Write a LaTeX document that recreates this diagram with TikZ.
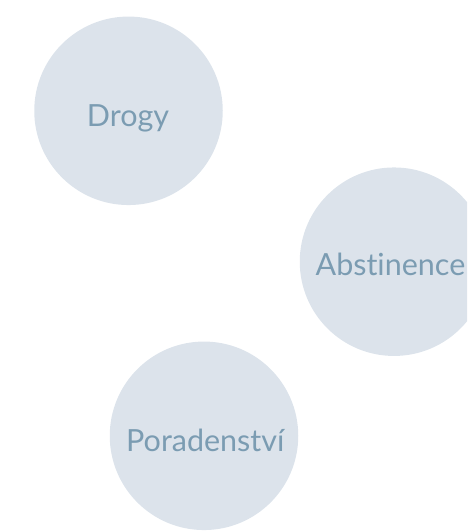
\documentclass[tikz,border=0pt]{standalone}
\usepackage{fontspec}
\setmainfont[Ligatures={NoCommon}]{Lato}
\definecolor{bubble}{HTML}{DCE3EB}
\definecolor{bubbletext}{HTML}{7B9CB2}
\begin{document}
\begin{tikzpicture}[x=1pt,y=-1pt,
  bubblestyle/.style={circle,fill=bubble,draw=none,minimum size=188.5pt,inner sep=0pt},
  labelstyle/.style={anchor=base,text=bubbletext,font=\fontsize{30.5}{34}\selectfont,inner sep=0pt}]
\useasboundingbox (0,0) rectangle (467,532);
\clip (0,0) rectangle (467,532);
\node[bubblestyle] (c1) at (128.5,110.8) {};
\node[bubblestyle] (c2) at (394,261.7) {};
\node[bubblestyle] (c3) at (204,435.8) {};
\node[labelstyle] (t1) at (128,126.5) {Drogy};
\node[labelstyle] (t2) at (390.5,275.5) {Abstinence};
\node[labelstyle] (t3) at (205.3,451.7) {Poradenství};
\end{tikzpicture}
\end{document}
